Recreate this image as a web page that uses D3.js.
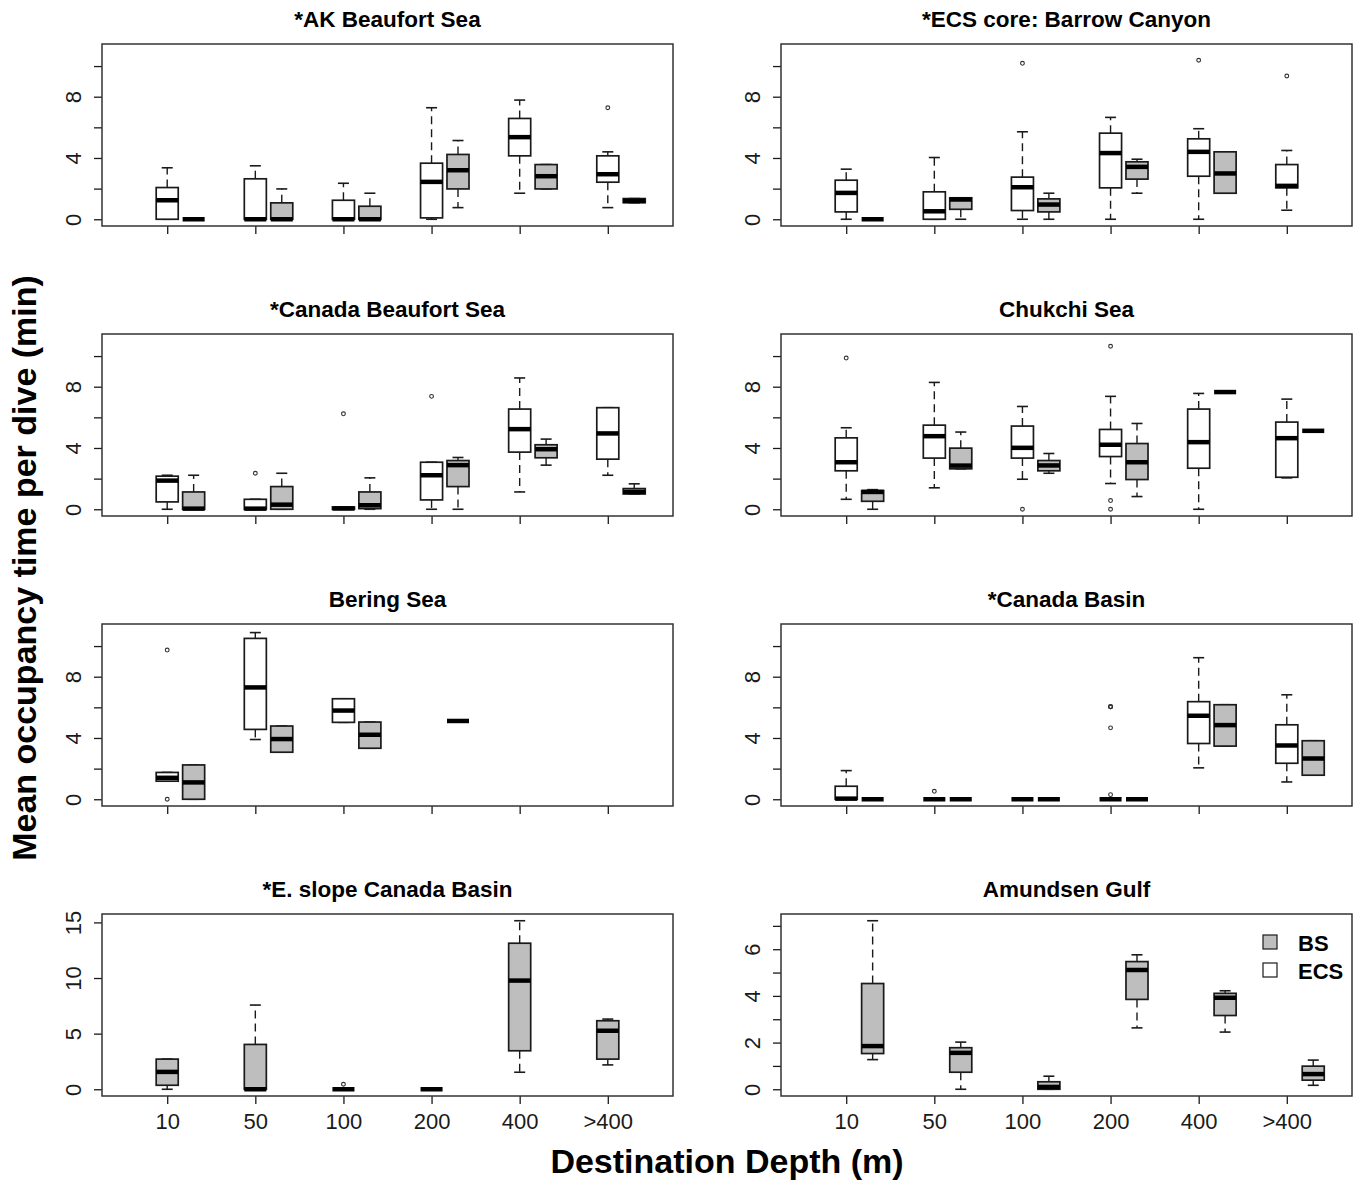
<!DOCTYPE html>
<html>
<head>
<meta charset="utf-8">
<script src="https://cdn.jsdelivr.net/npm/d3@7"></script>
<style>
  body { margin: 0; background: #fff; }
  text { font-family: "Liberation Sans", Arial, sans-serif; }
</style>
</head>
<body>
<div id="chart"></div>
<script>
// depth classes on the x axis
var depths = ["10", "50", "100", "200", "400", ">400"];

// box stats per depth: [lower whisker, Q1, median, Q3, upper whisker], null = no data
var akBeaufortECS = [[0, 0, 1.24, 2.07, 3.36], [0, 0, 0, 2.64, 3.49], [0, 0, 0, 1.24, 2.35],
                     [0, 0.09, 2.44, 3.66, 7.28], [1.70, 4.14, 5.36, 6.58, 7.78], [0.76, 2.42, 2.94, 4.14, 4.40]];
var akBeaufortBS  = [[0, 0, 0, 0, 0], [0, 0, 0, 1.07, 1.98], [0, 0, 0, 0.85, 1.70],
                     [0.76, 1.98, 3.20, 4.23, 5.14], [1.98, 1.98, 2.81, 3.57, 3.57], [1.08, 1.08, 1.20, 1.35, 1.35]];
var akBeaufortOut = [[5, "ecs", 7.28]];

var barrowECS = [[0, 0.48, 1.72, 2.55, 3.27], [0, 0, 0.52, 1.79, 4.03], [0, 0.57, 2.09, 2.75, 5.71],
                 [0, 2.05, 4.32, 5.62, 6.65], [0, 2.81, 4.40, 5.25, 5.91], [0.59, 2.05, 2.18, 3.57, 4.49]];
var barrowBS  = [[0, 0, 0, 0, 0], [0, 0.65, 1.29, 1.40, 1.40], [0, 0.48, 0.96, 1.33, 1.70],
                 [1.70, 2.62, 3.42, 3.75, 3.92], [1.70, 1.70, 2.99, 4.40, 4.40], null];
var barrowOut = [[2, "ecs", 10.18], [4, "ecs", 10.38], [5, "ecs", 9.35]];

var canBeaufortECS = [[0, 0.48, 1.87, 2.16, 2.22], [0, 0, 0.04, 0.65, 0.65], [0, 0, 0.05, 0.15, 0.15],
                      [0, 0.61, 2.22, 3.07, 3.07], [1.13, 3.73, 5.23, 6.54, 8.57], [2.22, 3.27, 4.95, 6.63, 6.63]];
var canBeaufortBS  = [[0, 0, 0.04, 1.13, 2.22], [0, 0, 0.30, 1.48, 2.35], [0, 0.04, 0.26, 1.13, 2.05],
                      [0, 1.48, 2.88, 3.18, 3.38], [2.88, 3.36, 3.92, 4.21, 4.58], [1.00, 1.00, 1.13, 1.35, 1.66]];
var canBeaufortOut = [[1, "ecs", 2.35], [2, "ecs", 6.23], [3, "ecs", 7.37]];

var chukchiECS = [[0.65, 2.51, 3.07, 4.66, 5.32], [1.40, 3.34, 4.77, 5.49, 8.28], [1.96, 3.34, 4.01, 5.43, 6.71],
                  [1.68, 3.44, 4.21, 5.21, 7.37], [0, 2.68, 4.38, 6.54, 7.56], [2.05, 2.09, 4.64, 5.69, 7.19]];
var chukchiBS  = [[0, 0.52, 1.13, 1.22, 1.28], [2.64, 2.64, 2.85, 3.99, 5.04], [2.35, 2.51, 2.86, 3.18, 3.64],
                  [0.83, 1.94, 3.07, 4.29, 5.60], [7.65, 7.65, 7.65, 7.65, 7.65], [5.12, 5.12, 5.12, 5.12, 5.12]];
var chukchiOut = [[0, "ecs", 9.87], [2, "ecs", 0], [3, "ecs", 10.64], [3, "ecs", 0.57], [3, "ecs", 0]];

var beringECS = [[1.18, 1.18, 1.40, 1.75, 1.75], [3.90, 4.56, 7.30, 10.50, 10.88], [5.02, 5.02, 5.79, 6.56, 6.56],
                 null, null, null];
var beringBS  = [[0, 0, 1.10, 2.24, 2.24], [3.07, 3.07, 3.93, 4.78, 4.78], [3.33, 3.33, 4.21, 5.04, 5.04],
                 [5.11, 5.11, 5.11, 5.11, 5.11], null, null];
var beringOut = [[0, "ecs", 9.74], [0, "ecs", 0]];

var canBasinECS = [[0, 0, 0.04, 0.85, 1.87], [0, 0, 0, 0, 0], [0, 0, 0, 0, 0],
                   [0, 0, 0, 0, 0], [2.05, 3.64, 5.45, 6.37, 9.24], [1.13, 2.35, 3.51, 4.86, 6.82]];
var canBasinBS  = [[0, 0, 0, 0, 0], [0, 0, 0, 0, 0], [0, 0, 0, 0, 0],
                   [0, 0, 0, 0, 0], [3.47, 3.47, 4.84, 6.17, 6.17], [1.57, 1.57, 2.66, 3.82, 3.82]];
var canBasinOut = [[1, "ecs", 0.52], [3, "ecs", 6.04], [3, "ecs", 6.04], [3, "ecs", 6.04], [3, "ecs", 4.66], [3, "ecs", 0.30]];

var eSlopeBS  = [[0, 0.36, 1.56, 2.71, 2.71], [0, 0, 0, 4.03, 7.57], [0, 0, 0, 0, 0],
                 [0, 0, 0, 0, 0], [1.53, 3.46, 9.77, 13.13, 15.15], [2.19, 2.71, 5.26, 6.16, 6.31]];
var eSlopeOut = [[2, "bs", 0.45]];

var amundsenBS  = [[1.27, 1.53, 1.85, 4.53, 7.22], [0, 0.73, 1.56, 1.78, 2.02], [0, 0, 0.10, 0.32, 0.56],
                   [2.63, 3.85, 5.11, 5.47, 5.76], [2.45, 3.16, 3.92, 4.11, 4.22], [0.17, 0.39, 0.65, 0.99, 1.25]];

// y axis ticks / labels
var yTicksMain = [0, 2, 4, 6, 8, 10], yLabelsMain = [0, 4, 8];
var yTicksSlope = [0, 5, 10, 15], yLabelsSlope = [0, 5, 10, 15];
var yTicksAmund = [0, 1, 2, 3, 4, 5, 6, 7], yLabelsAmund = [0, 2, 4, 6];

var panels = [
  {title: "*AK Beaufort Sea", ecs: akBeaufortECS, bs: akBeaufortBS, out: akBeaufortOut, ymax: 11, ticks: yTicksMain, labels: yLabelsMain, col: 0, row: 0},
  {title: "*ECS core: Barrow Canyon", ecs: barrowECS, bs: barrowBS, out: barrowOut, ymax: 11, ticks: yTicksMain, labels: yLabelsMain, col: 1, row: 0},
  {title: "*Canada Beaufort Sea", ecs: canBeaufortECS, bs: canBeaufortBS, out: canBeaufortOut, ymax: 11, ticks: yTicksMain, labels: yLabelsMain, col: 0, row: 1},
  {title: "Chukchi Sea", ecs: chukchiECS, bs: chukchiBS, out: chukchiOut, ymax: 11, ticks: yTicksMain, labels: yLabelsMain, col: 1, row: 1},
  {title: "Bering Sea", ecs: beringECS, bs: beringBS, out: beringOut, ymax: 11, ticks: yTicksMain, labels: yLabelsMain, col: 0, row: 2},
  {title: "*Canada Basin", ecs: canBasinECS, bs: canBasinBS, out: canBasinOut, ymax: 11, ticks: yTicksMain, labels: yLabelsMain, col: 1, row: 2},
  {title: "*E. slope Canada Basin", ecs: null, bs: eSlopeBS, out: eSlopeOut, ymax: 15.15, ticks: yTicksSlope, labels: yLabelsSlope, col: 0, row: 3, bsShift: 0},
  {title: "Amundsen Gulf", ecs: null, bs: amundsenBS, out: [], ymax: 7.22, ticks: yTicksAmund, labels: yLabelsAmund, col: 1, row: 3, legend: true}
];

var W = 1362, H = 1183;
var pw = 571, ph = 182;
var colX = [102, 781], rowY = [44, 334, 624, 914];
var boxW = 0.25, bsOffset = 0.3;
var ink = "#1a1a1a";

var svg = d3.select("#chart").append("svg")
  .attr("width", W).attr("height", H);

panels.forEach(function(p) {
  var x0 = colX[p.col], y0 = rowY[p.row];
  var g = svg.append("g").attr("transform", "translate(" + x0 + "," + y0 + ")");
  var shiftBS = p.bsShift !== undefined ? p.bsShift : bsOffset;

  // R style 4% padding on the axis ranges
  var x = d3.scaleLinear().domain([0.26, 6.74]).range([0, pw]);
  var pad = p.ymax * 0.04;
  var y = d3.scaleLinear().domain([-pad, p.ymax + pad]).range([ph, 0]);

  // title
  g.append("text")
    .attr("x", pw / 2).attr("y", -17)
    .attr("text-anchor", "middle")
    .style("font-size", "22.5px").style("font-weight", "bold")
    .text(p.title);

  // y axis
  var ya = g.append("g")
    .call(d3.axisLeft(y).tickValues(p.ticks).tickSize(8)
      .tickFormat(function(d) { return p.labels.indexOf(d) >= 0 ? d : ""; }));
  ya.select(".domain").remove();
  ya.selectAll("line").attr("stroke", ink).attr("stroke-width", 1.3);
  ya.selectAll("text")
    .attr("transform", "rotate(-90)")
    .attr("x", 0).attr("y", -21).attr("dy", 0)
    .attr("text-anchor", "middle")
    .attr("fill", ink)
    .style("font-size", "22px").style("font-family", "'Liberation Sans', Arial, sans-serif");

  // x axis
  var xa = g.append("g")
    .attr("transform", "translate(0," + ph + ")")
    .call(d3.axisBottom(x).tickValues([1, 2, 3, 4, 5, 6]).tickSize(8).tickPadding(9)
      .tickFormat(function(d, i) { return p.row === 3 ? depths[i] : ""; }));
  xa.select(".domain").remove();
  xa.selectAll("line").attr("stroke", ink).attr("stroke-width", 1.3);
  xa.selectAll("text").attr("fill", ink)
    .style("font-size", "22px").style("font-family", "'Liberation Sans', Arial, sans-serif");

  // the boxes
  var series = [];
  if (p.ecs) series.push({key: "ecs", stats: p.ecs, fill: "#ffffff", shift: 0});
  series.push({key: "bs", stats: p.bs, fill: "#bebebe", shift: shiftBS});

  series.forEach(function(s) {
    s.stats.forEach(function(st, i) {
      if (!st) return;
      var cx = x(i + 1 + s.shift);
      var half = (x(boxW) - x(0)) / 2;
      var bg = g.append("g");
      // dashed whiskers
      [[st[3], st[4]], [st[1], st[0]]].forEach(function(w) {
        if (w[0] !== w[1]) {
          bg.append("line")
            .attr("x1", cx).attr("x2", cx)
            .attr("y1", y(w[0])).attr("y2", y(w[1]))
            .attr("stroke", ink).attr("stroke-width", 1.4)
            .attr("stroke-dasharray", "8,5");
        }
      });
      // staples
      [st[0], st[4]].forEach(function(v) {
        bg.append("line")
          .attr("x1", cx - half / 2).attr("x2", cx + half / 2)
          .attr("y1", y(v)).attr("y2", y(v))
          .attr("stroke", ink).attr("stroke-width", 1.6);
      });
      bg.append("rect")
        .attr("x", cx - half).attr("width", half * 2)
        .attr("y", y(st[3])).attr("height", y(st[1]) - y(st[3]))
        .attr("fill", s.fill)
        .attr("stroke", ink).attr("stroke-width", 1.7);
      bg.append("line")
        .attr("x1", cx - half).attr("x2", cx + half)
        .attr("y1", y(st[2])).attr("y2", y(st[2]))
        .attr("stroke", "#000").attr("stroke-width", 4.5);
    });
  });

  // outliers
  g.selectAll(".outlier")
    .data(p.out)
    .enter()
    .append("circle")
    .attr("class", "outlier")
    .attr("cx", function(d) { return x(d[0] + 1 + (d[1] === "bs" ? shiftBS : 0)); })
    .attr("cy", function(d) { return y(d[2]); })
    .attr("r", 1.9)
    .attr("fill", "none")
    .attr("stroke", "#333")
    .attr("stroke-width", 1.1);

  // frame
  g.append("rect")
    .attr("width", pw).attr("height", ph)
    .attr("fill", "none")
    .attr("stroke", "#333").attr("stroke-width", 1.5);

  if (p.legend) {
    var items = [{name: "BS", fill: "#bebebe"}, {name: "ECS", fill: "#ffffff"}];
    var lg = g.selectAll(".legend")
      .data(items)
      .enter()
      .append("g")
      .attr("class", "legend")
      .attr("transform", function(d, i) { return "translate(482," + (21 + i * 28) + ")"; });
    lg.append("rect")
      .attr("width", 14).attr("height", 14)
      .attr("fill", function(d) { return d.fill; })
      .attr("stroke", ink).attr("stroke-width", 1.2);
    lg.append("text")
      .attr("x", 35).attr("y", 16)
      .style("font-size", "22px").style("font-weight", "bold")
      .text(function(d) { return d.name; });
  }
});

// shared axis titles
svg.append("text")
  .attr("transform", "translate(36,568) rotate(-90)")
  .attr("text-anchor", "middle")
  .style("font-size", "34px").style("font-weight", "bold")
  .text("Mean occupancy time per dive (min)");

svg.append("text")
  .attr("x", 727).attr("y", 1173)
  .attr("text-anchor", "middle")
  .style("font-size", "34px").style("font-weight", "bold")
  .text("Destination Depth (m)");
</script>
</body>
</html>
